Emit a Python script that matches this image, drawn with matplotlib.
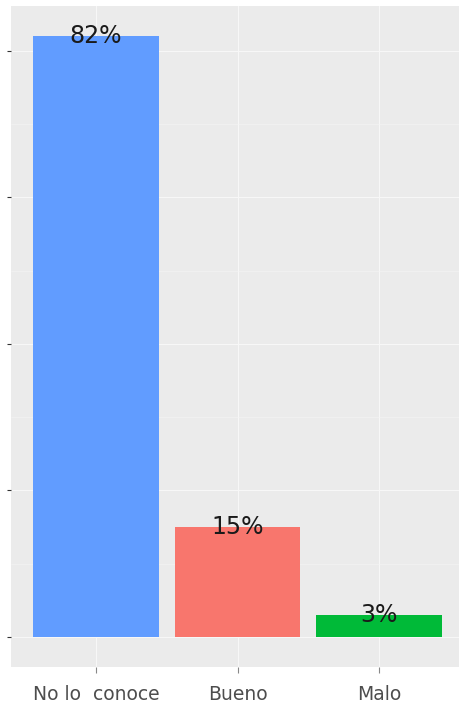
import matplotlib.pyplot as plt

categories = ["No lo  conoce", "Bueno", "Malo"]
values = [82, 15, 3]
labels = ["82%", "15%", "3%"]
colors = ["#619CFF", "#F8766D", "#00BA38"]

W, H = 459, 709
fig = plt.figure(figsize=(W / 100, H / 100), dpi=100)
fig.patch.set_facecolor("white")

# panel runs past the right edge of the picture (cropped screenshot)
left, right, top, bottom = 11, 464, 6, 667
ax = fig.add_axes([left / W, 1 - bottom / H, (right - left) / W, (bottom - top) / H])
ax.set_facecolor("#EBEBEB")

x = [1, 2, 3]
ax.bar(x, values, width=0.89, color=colors, zorder=3)
for xi, v, lab in zip(x, values, labels):
    ax.text(xi, v, lab, ha="center", va="center", fontsize=17, color="#1a1a1a", zorder=4)

ax.set_xlim(0.4, 3.6)
ax.set_ylim(-4.1, 86.1)
ax.set_yticks([0, 20, 40, 60, 80])
ax.set_yticks([10, 30, 50, 70], minor=True)
ax.set_yticklabels([])
ax.set_xticks(x)
ax.set_xticklabels(categories, fontsize=13.5, color="#4D4D4D")

ax.grid(True, which="major", color="#F7F7F7", linewidth=0.8, zorder=0)
ax.grid(True, which="minor", axis="y", color="#F4F4F4", linewidth=0.4, zorder=0)
ax.set_axisbelow(True)
ax.tick_params(axis="x", which="major", length=4, color="#888888", pad=9)
ax.tick_params(axis="y", which="major", length=3, color="#333333")
ax.tick_params(axis="y", which="minor", length=0)
for s in ax.spines.values():
    s.set_visible(False)

fig.savefig("out.png", dpi=100)
